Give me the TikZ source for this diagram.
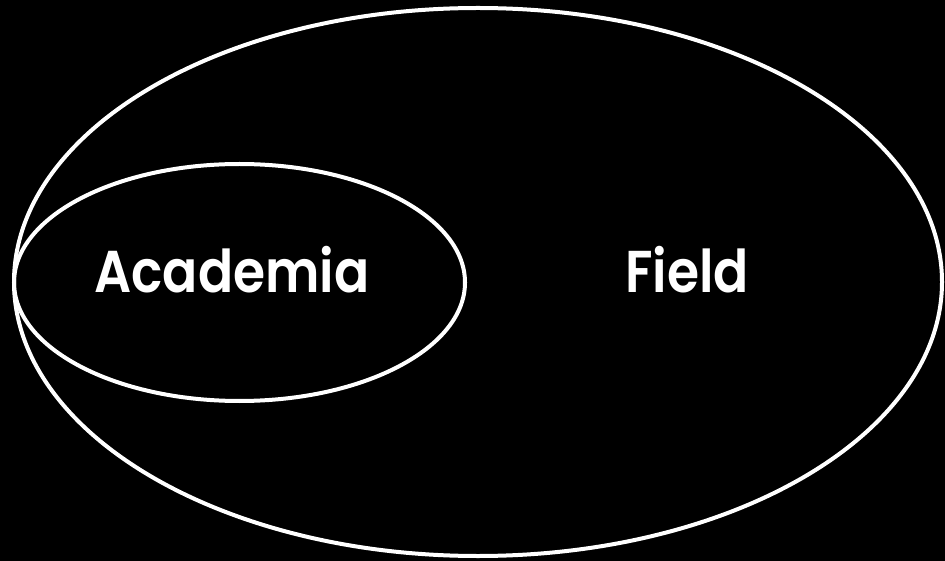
\documentclass[tikz,border=0pt]{standalone}
\usepackage{fontspec}
\usetikzlibrary{shapes.geometric}
\setmainfont{Poppins}[BoldFont=* SemiBold]
\begin{document}
\begin{tikzpicture}[x=1pt,y=-1pt,
  ring/.style={draw=white,line width=4pt,ellipse,inner sep=0pt,outer sep=0pt},
  lbl/.style={text=white,font=\fontsize{59}{66}\selectfont\bfseries,inner sep=0pt,anchor=base,xscale=0.88,transform shape}]
\fill[black] (0,0) rectangle (945,561);
\useasboundingbox (0,0) rectangle (945,561);
\node[ring,minimum width=928pt,minimum height=548pt] (field) at (478,282) {};
\node[ring,minimum width=451pt,minimum height=237pt] (acad) at (239.5,282.5) {};
\node[lbl] (academia) at (232,293) {Academia};
\node[lbl] (fieldlbl) at (687,293) {Field};
\end{tikzpicture}
\end{document}
